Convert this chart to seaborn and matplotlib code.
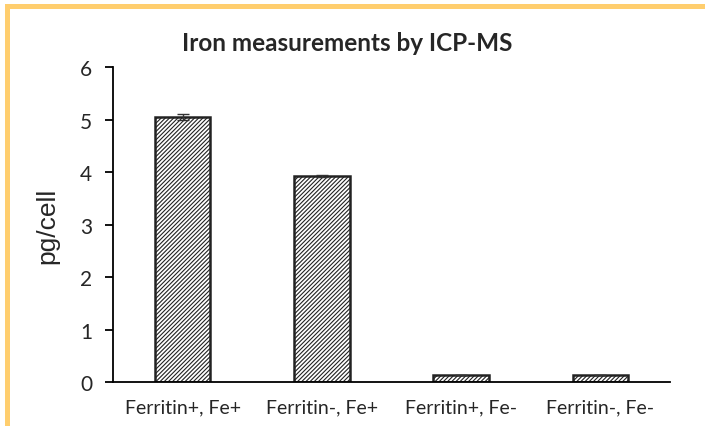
import matplotlib
matplotlib.use("Agg")
import matplotlib.pyplot as plt
import seaborn as sns
import pandas as pd
from matplotlib.patches import Rectangle

categories = ["Ferritin+, Fe+", "Ferritin-, Fe+", "Ferritin+, Fe-", "Ferritin-, Fe-"]
values = [5.05, 3.92, 0.13, 0.13]
errors = [0.05, 0.02, 0.0, 0.0]
yticks = [0, 1, 2, 3, 4, 5, 6]

sns.set_theme(style="white")
plt.rcParams['font.family'] = ['Lato', 'DejaVu Sans']
plt.rcParams['hatch.linewidth'] = 0.8

df = pd.DataFrame({"cat": categories, "val": values})

fig = plt.figure(figsize=(7.05, 4.27), dpi=100)
fig.patch.set_facecolor("white")
ax = fig.add_axes([0.1603, 0.103, 0.7901, 0.7377])

sns.barplot(data=df, x="cat", y="val", ax=ax, width=0.4, color="white",
            edgecolor="#222222", linewidth=1.8, errorbar=None)
for p in ax.patches:
    p.set_hatch("////////")
    p.set_facecolor("white")

ax.errorbar(range(len(categories)), values, yerr=errors, fmt="none",
            ecolor="#333333", elinewidth=1, capsize=4, capthick=1)

ax.set_xlim(-0.5, 3.5)
ax.set_ylim(0, 6)
ax.set_yticks(yticks)
ax.set_yticklabels([str(t) for t in yticks], fontsize=15)
ax.set_xticks(range(len(categories)))
ax.set_xticklabels(categories, fontsize=14)
ax.set_xticks([-0.5, 0.5, 1.5, 2.5, 3.5], minor=True)
ax.tick_params(axis="x", which="major", length=0, pad=12)
ax.tick_params(axis="x", which="minor", length=6, width=1.3, color="black", direction="out")
ax.tick_params(axis="y", length=6, width=1.3, color="black", direction="out", pad=9, left=True)

for s in ["top", "right"]:
    ax.spines[s].set_visible(False)
for s in ["left", "bottom"]:
    ax.spines[s].set_color("black")
    ax.spines[s].set_linewidth(1.3)

ax.set_xlabel("")
ax.set_ylabel("pg/cell", fontsize=19, family=["Liberation Sans", "DejaVu Sans"], labelpad=15)
fig.text(0.493, 0.897, "Iron measurements by ICP-MS", ha="center", va="center",
         fontsize=17.5, fontweight="bold")

# orange frame on top and left
fig.patches.append(Rectangle((5/705, 0), 5/705, 1 - 5/427, transform=fig.transFigure,
                             facecolor="#FFCE6E", edgecolor="none"))
fig.patches.append(Rectangle((5/705, 1 - 10/427), 1, 5/427, transform=fig.transFigure,
                             facecolor="#FFCE6E", edgecolor="none"))

fig.savefig("out.png", dpi=100)
